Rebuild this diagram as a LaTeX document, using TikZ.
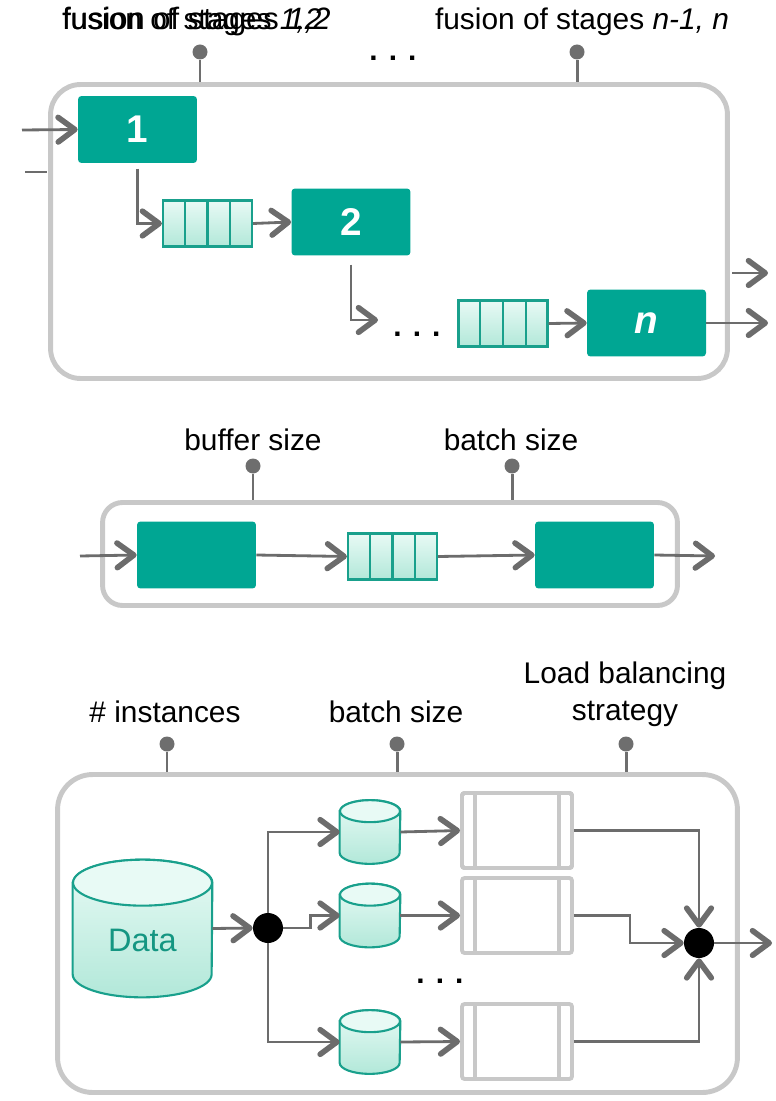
\documentclass[tikz,border=0pt]{standalone}
\usepackage{fontspec}
\setmainfont{Liberation Sans}
\usetikzlibrary{arrows.meta,calc}

\definecolor{stageteal}{RGB}{0,166,147}
\definecolor{bufedge}{RGB}{25,160,140}
\definecolor{buftop}{RGB}{232,250,245}
\definecolor{bufbot}{RGB}{178,232,217}
\definecolor{framegray}{RGB}{200,200,200}
\definecolor{pingray}{RGB}{110,110,110}
\definecolor{arrowgray}{RGB}{108,108,108}
\definecolor{datatext}{RGB}{20,150,130}

\tikzset{
  stage/.style={fill=stageteal, rounded corners=2pt, minimum width=2.38cm, minimum height=1.34cm,
    text=white, font=\fontsize{22}{26}\selectfont\bfseries, inner sep=0pt},
  buffer/.style={draw=bufedge, line width=1.2pt, top color=buftop, bottom color=bufbot,
    minimum width=1.78cm, minimum height=0.92cm, inner sep=0pt},
  frame/.style={draw=framegray, line width=2.8pt, inner sep=0pt},
  knob/.style={circle, fill=pingray, minimum size=0.3cm, inner sep=0pt},
  knobline/.style={draw=pingray, line width=1.7pt},
  flow/.style={draw=arrowgray, line width=1.6pt, -{Straight Barb[length=9.5pt,width=14pt,line width=3.2pt,round]}},
  param/.style={font=\fontsize{17}{21}\selectfont, inner sep=0pt, align=center},
  store/.style={inner sep=0pt},
  bin/.style={draw=framegray, line width=2.2pt, rounded corners=1.5pt, minimum width=2.2cm,
    minimum height=1.5cm, inner sep=0pt},
  hub/.style={circle, fill=black, minimum size=0.6cm, inner sep=0pt},
  etc/.style={font=\fontsize{17}{20}\selectfont\bfseries, inner sep=0pt}
}

\newcommand{\drawdrum}[3]{%
  \path[draw=bufedge, line width=1.2pt, top color=buftop, bottom color=bufbot]
    ([yshift=-#3]#1.north west) -- ([yshift=#3]#1.south west)
    arc[start angle=180, end angle=360, x radius=#2, y radius=#3]
    -- ([yshift=-#3]#1.north east)
    arc[start angle=0, end angle=180, x radius=#2, y radius=#3] -- cycle;
  \draw[bufedge, line width=1.2pt, fill=buftop] ([yshift=-#3]#1.north) ellipse[x radius=#2, y radius=#3];
}

\begin{document}
\begin{tikzpicture}[x=0.02cm, y=-0.02cm]
\useasboundingbox (0,0) rectangle (775,1101);

\node[frame, rounded corners=0.6cm, minimum width=13.54cm, minimum height=5.88cm] (fusion) at (389,231.5) {};
\node[param, anchor=west] (lblfa) at (62,22) {fusion of stages \textit{1,2}};
\node[param, anchor=west, font=\fontsize{17.6}{21}\selectfont] (lblfb) at (62,22) {fusion of stages \textit{1,2}};
\node[param] (lblfn) at (582,22) {fusion of stages \textit{n-1, n}};
\node[knob] (pinfa) at (200,52) {};
\node[knob] (pinfn) at (577,52) {};
\draw[knobline] (pinfa) -- (pinfa |- fusion.north);
\draw[knobline] (pinfn) -- (pinfn |- fusion.north);
\node[etc] (dotsf) at (393,58) {. . .};

\node[stage] (st1) at (137.5,129.5) {1};
\node[buffer] (q1) at (207.5,223.5) {};
\node[stage] (st2) at (351,222) {2};
\node[etc] (dotsq) at (417,334) {. . .};
\node[buffer] (q2) at (503,323.5) {};
\node[stage] (stn) at (646.5,323) {\textit{n}};
\coordinate (inf) at (22,130);
\coordinate (stuba) at (25,172);
\coordinate (stubb) at (47,172);
\coordinate (gapf) at (378,320);
\coordinate (outfa) at (732,273);
\coordinate (outfb) at (768,273);
\coordinate (outfn) at (768,323);
\draw[flow] (inf) -- (st1.west);
\draw[draw=arrowgray, line width=1.6pt] (stuba) -- (stubb);
\draw[flow, shorten <=3pt] (st1.south) |- (q1.west);
\draw[flow] (q1.east) -- (st2.west);
\draw[flow, shorten <=5pt] (st2.south) |- (gapf);
\draw[flow] (q2.east) -- (stn.west);
\draw[flow] (stn.east) -- (outfn);
\draw[flow] (outfa) -- (outfb);

\node[frame, rounded corners=0.4cm, minimum width=11.5cm, minimum height=2.06cm] (tuning) at (390,554) {};
\node[param] (lblbuf) at (253,440) {buffer size};
\node[param] (lblbat) at (511,440) {batch size};
\node[knob] (pinbuf) at (253,466) {};
\node[knob] (pinbat) at (512,466) {};
\draw[knobline] (pinbuf) -- (pinbuf |- tuning.north);
\draw[knobline] (pinbat) -- (pinbat |- tuning.north);
\node[stage] (sta) at (196.5,555) {};
\node[buffer] (qm) at (392.5,556.5) {};
\node[stage] (stb) at (594.5,555) {};
\coordinate (inm) at (80,556);
\coordinate (outm) at (715,556);
\draw[flow] (inm) -- (sta.west);
\draw[flow] (sta.east) -- (qm.west);
\draw[flow] (qm.east) -- (stb.west);
\draw[flow] (stb.east) -- (outm);

\foreach \q in {q1,q2,qm}
  \foreach \f in {0.25,0.5,0.75}
    \draw[bufedge, line width=1.2pt] ($(\q.north west)!\f!(\q.north east)$) -- ($(\q.south west)!\f!(\q.south east)$);

\node[frame, rounded corners=0.7cm, minimum width=13.6cm, minimum height=6.36cm] (replica) at (397.5,933.5) {};
\node[param] (lblinst) at (165,712) {\# instances};
\node[param] (lblrb) at (396,712) {batch size};
\node[param] (lbllb) at (625,694) {Load balancing\\strategy};
\node[knob] (pininst) at (167,744) {};
\node[knob] (pinrb) at (397,744) {};
\node[knob] (pinlb) at (626,744) {};
\draw[knobline] (pininst) -- (pininst |- replica.north);
\draw[knobline] (pinrb) -- (pinrb |- replica.north);
\draw[knobline] (pinlb) -- (pinlb |- replica.north);

\node[store, minimum width=2.78cm, minimum height=2.74cm] (data) at (142.5,928.5) {};
\drawdrum{data}{1.39cm}{0.46cm}
\node[text=datatext, font=\fontsize{18.5}{22}\selectfont, inner sep=0pt] (datalbl) at (142.5,940) {Data};
\node[hub] (split) at (268,928) {};
\node[store, minimum width=1.2cm, minimum height=1.26cm] (cyla) at (370,832) {};
\node[store, minimum width=1.2cm, minimum height=1.26cm] (cylb) at (370,915.5) {};
\node[store, minimum width=1.2cm, minimum height=1.26cm] (cylc) at (370,1042) {};
\foreach \c in {cyla,cylb,cylc}
  \drawdrum{\c}{0.6cm}{0.22cm}
\node[bin] (bina) at (517,830.5) {};
\node[bin] (binb) at (517,915.5) {};
\node[bin] (binc) at (517,1041.5) {};
\foreach \b in {bina,binb,binc} {
  \draw[framegray, line width=2.2pt] ([xshift=0.3cm]\b.north west) -- ([xshift=0.3cm]\b.south west);
  \draw[framegray, line width=2.2pt] ([xshift=-0.3cm]\b.north east) -- ([xshift=-0.3cm]\b.south east);
}
\node[etc] (dotsr) at (440,981) {. . .};
\node[hub] (merge) at (699,943) {};
\coordinate (outr) at (772,943);

\draw[flow] (data.east) -- (split.west);
\draw[flow] (split) |- (cyla.west);
\draw[flow] (split.east) -- ++(27,0) |- (cylb.west);
\draw[flow] (split) |- (cylc.west);
\draw[flow] (cyla.east) -- (bina.west);
\draw[flow] (cylb.east) -- (binb.west);
\draw[flow] (cylc.east) -- (binc.west);
\draw[flow] (bina.east) -| (merge.north);
\draw[flow] (binb.east) -- ++(56,0) |- (merge.west);
\draw[flow] (binc.east) -| (merge.south);
\draw[flow] (merge.east) -- (outr);
\end{tikzpicture}
\end{document}
